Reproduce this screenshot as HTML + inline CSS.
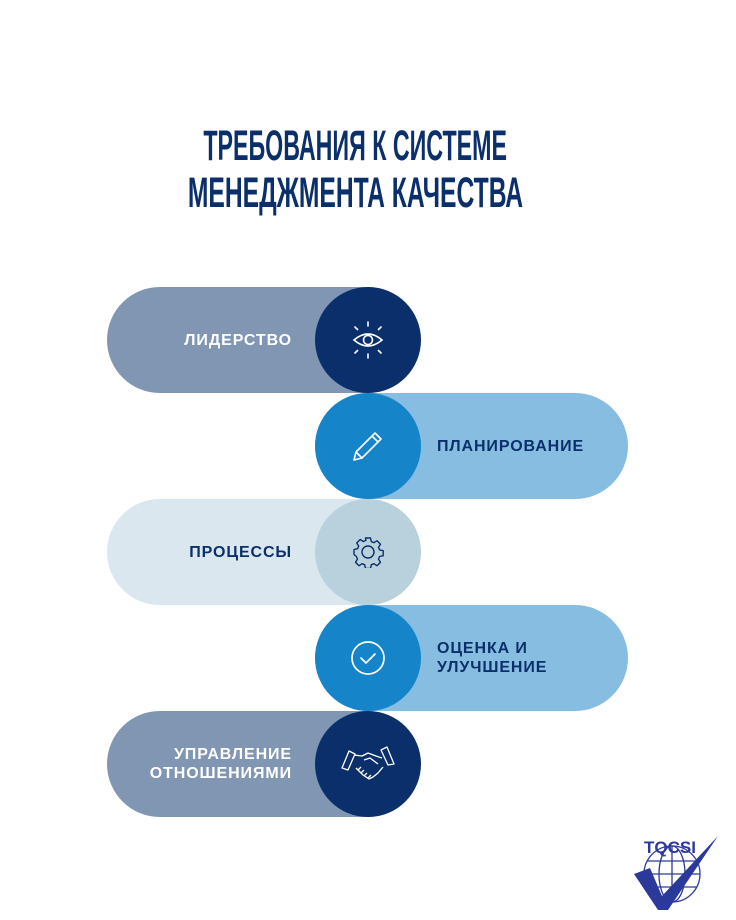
<!DOCTYPE html>
<html><head><meta charset="utf-8"><style>
body{margin:0;width:736px;height:920px;background:#fff;position:relative;overflow:hidden;font-family:"Liberation Sans",sans-serif}
.t{position:absolute;left:-13px;width:736px;text-align:center;color:#0b2f6b;font-weight:bold;font-size:43px;line-height:1}
.t span{display:inline-block;transform-origin:center;white-space:nowrap}
.pill{position:absolute;height:106px;border-radius:53px}
.c{position:absolute;width:106px;height:106px;border-radius:53px;left:315px;display:flex;align-items:center;justify-content:center}
.lab{position:absolute;font-weight:bold;font-size:16px;letter-spacing:0.9px;line-height:19px;display:flex;align-items:center;height:106px}
.l{right:444px;text-align:right;justify-content:flex-end}
.r{left:437px}
</style></head><body>
<div class="t" style="top:125px"><span style="transform:scaleX(0.54)">ТРЕБОВАНИЯ К СИСТЕМЕ</span></div>
<div class="t" style="top:172px"><span style="transform:scaleX(0.573)">МЕНЕДЖМЕНТА КАЧЕСТВА</span></div>

<div class="pill" style="left:107px;width:313px;top:287px;background:#8096b3"></div>
<div class="c" style="top:287px;background:#0b2f6b">
<svg width="40" height="40" viewBox="0 0 40 40" fill="none" stroke="#fff" stroke-width="1.6" stroke-linecap="round"><path d="M6 20 Q20 8 34 20 Q20 32 6 20Z"/><circle cx="20" cy="20" r="4.5"/><path d="M20 2v4M20 34v4M7 7l2.5 2.5M33 7l-2.5 2.5M7 33l2.5-2.5M33 33l-2.5-2.5"/></svg></div>
<div class="lab l" style="top:287px;color:#fff">ЛИДЕРСТВО</div>

<div class="pill" style="left:315px;width:313px;top:393px;background:#88bde2"></div>
<div class="c" style="top:393px;background:#1584c9">
<svg width="36" height="36" viewBox="0 0 36 36" fill="none" stroke="#fff" stroke-width="1.6" stroke-linejoin="round"><path d="M4 32l2-8L25 5l6 6L12 30z M22 8l6 6 M6 24l6 6"/></svg></div>
<div class="lab r" style="top:393px;color:#0b2f6b">ПЛАНИРОВАНИЕ</div>

<div class="pill" style="left:107px;width:313px;top:499px;background:#dbe7ee"></div>
<div class="c" style="top:499px;background:#b8d1dc">
<svg width="32" height="32" viewBox="0 0 32 32" fill="none" stroke="#0b2f6b" stroke-width="1.4" stroke-linejoin="round"><path d="M13.5 2h5l.8 3.6 2.6 1.1 3.1-2 3.5 3.5-2 3.1 1.1 2.6 3.6.8v5l-3.6.8-1.1 2.6 2 3.1-3.5 3.5-3.1-2-2.6 1.1-.8 3.6h-5l-.8-3.6-2.6-1.1-3.1 2-3.5-3.5 2-3.1-1.1-2.6L2 18.5v-5l3.6-.8 1.1-2.6-2-3.1 3.5-3.5 3.1 2 2.6-1.1z"/><circle cx="16" cy="16" r="6"/></svg></div>
<div class="lab l" style="top:499px;color:#0b2f6b">ПРОЦЕССЫ</div>

<div class="pill" style="left:315px;width:313px;top:605px;background:#88bde2"></div>
<div class="c" style="top:605px;background:#1584c9">
<svg width="38" height="38" viewBox="0 0 38 38" fill="none" stroke="#fff" stroke-width="1.7" stroke-linecap="round" stroke-linejoin="round"><circle cx="19" cy="19" r="16"/><path d="M12 19l5 5 9-9"/></svg></div>
<div class="lab r" style="top:605px;color:#0b2f6b">ОЦЕНКА И<br>УЛУЧШЕНИЕ</div>

<div class="pill" style="left:107px;width:313px;top:711px;background:#8096b3"></div>
<div class="c" style="top:711px;background:#0b2f6b">
<svg width="56" height="36" viewBox="0 0 56 36" fill="none" stroke="#fff" stroke-width="1.3" stroke-linejoin="round"><path d="M2 22l7-17 6 3-7 16z M54 18l-7-17-6 3 7 15z M14 9l8 1 6-3 8 3 6 2 M16 22l4 4 3 3 3 2 3 2 4-2 5-4 5-6 M24 14l6-2 8 6 M18 24l3-3M21 27l3-3M24 30l3-3M28 32l3-3"/></svg></div>
<div class="lab l" style="top:711px;color:#fff">УПРАВЛЕНИЕ<br>ОТНОШЕНИЯМИ</div>

<svg style="position:absolute;left:628px;top:832px" width="95" height="82" viewBox="0 0 95 82">
<g fill="none" stroke="#2b3a9a" stroke-width="1.3"><circle cx="44" cy="42" r="28"/><ellipse cx="44" cy="42" rx="13" ry="28"/><path d="M44 14v56M16 42h56M19 29h50M19 55h50"/></g>
<path d="M6 42 L22 36 L34 64 L90 4 L40 78 L30 78Z" fill="#2b3a9a"/>
<text x="42" y="21" text-anchor="middle" font-family="Liberation Sans" font-weight="bold" font-size="17" fill="#2b3a9a">TQCSI</text>
</svg>
</body></html>
